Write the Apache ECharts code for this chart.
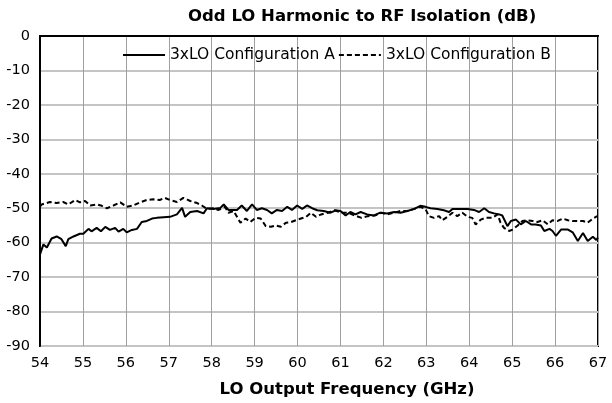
<!DOCTYPE html>
<html><head><meta charset="utf-8">
<script src="https://cdn.jsdelivr.net/npm/echarts@6/dist/echarts.min.js"></script>
<style>html,body{margin:0;padding:0;background:#fff;overflow:hidden}#c{width:612px;height:403px}</style>
</head><body><div id="c"></div>
<script>
const titleText = 'Odd LO Harmonic to RF Isolation (dB)';
const xAxisTitle = 'LO Output Frequency (GHz)';
const seriesNames = ['3xLO Configuration A', '3xLO Configuration B'];

const freqA = [54.00,54.08,54.16,54.27,54.39,54.50,54.60,54.66,54.78,54.93,55.01,55.13,55.20,55.32,55.42,55.52,55.63,55.75,55.83,55.94,56.02,56.14,56.26,56.37,56.49,56.61,56.72,56.88,57.03,57.19,57.31,57.38,57.50,57.66,57.81,57.89,58.04,58.20,58.28,58.39,58.43,58.59,58.70,58.82,58.94,59.05,59.17,59.29,59.40,59.52,59.64,59.76,59.87,59.99,60.11,60.22,60.34,60.46,60.61,60.77,60.89,61.00,61.12,61.23,61.35,61.47,61.62,61.78,61.93,62.09,62.25,62.40,62.56,62.72,62.86,62.98,63.10,63.26,63.41,63.53,63.61,63.76,63.96,64.11,64.23,64.35,64.46,64.58,64.70,64.77,64.89,64.97,65.09,65.20,65.32,65.44,65.55,65.67,65.75,65.87,65.94,66.02,66.14,66.30,66.41,66.53,66.65,66.76,66.88,66.96,67.00];
const isoA = [-63.4,-60.5,-61.4,-58.8,-58.2,-59.0,-61.0,-59.0,-58.2,-57.4,-57.4,-56.0,-56.7,-55.7,-56.7,-55.4,-56.3,-55.7,-56.8,-56.0,-57.0,-56.3,-56.0,-54.0,-53.7,-53.0,-52.8,-52.6,-52.5,-51.8,-49.9,-52.5,-51.1,-50.8,-51.5,-50.0,-50.2,-49.9,-48.9,-50.5,-50.2,-50.5,-49.2,-50.8,-48.9,-50.5,-50.0,-50.5,-51.5,-50.5,-50.8,-49.6,-50.5,-49.2,-50.2,-49.2,-50.0,-50.6,-50.8,-51.3,-50.6,-50.8,-52.1,-51.1,-51.8,-51.1,-51.8,-52.1,-51.3,-51.5,-51.1,-51.3,-50.8,-50.2,-49.3,-49.6,-50.0,-50.2,-50.6,-51.1,-50.2,-50.2,-50.2,-50.5,-51.1,-50.0,-51.1,-51.5,-51.8,-52.1,-55.2,-53.7,-53.3,-54.7,-53.7,-54.7,-54.7,-55.0,-56.6,-56.0,-56.6,-58.0,-56.2,-56.2,-57.0,-59.5,-57.2,-59.5,-58.3,-59.2,-58.5];

const freqB = [54.00,54.04,54.23,54.39,54.54,54.66,54.82,54.93,55.05,55.17,55.32,55.44,55.56,55.71,55.87,56.02,56.17,56.33,56.49,56.64,56.79,56.91,57.03,57.19,57.34,57.50,57.66,57.77,57.89,58.04,58.16,58.31,58.39,58.51,58.67,58.79,58.90,59.02,59.14,59.26,59.38,59.49,59.61,59.73,59.85,59.96,60.08,60.20,60.31,60.43,60.55,60.71,60.86,61.02,61.18,61.33,61.49,61.64,61.80,61.96,62.09,62.25,62.40,62.56,62.72,62.86,62.98,63.06,63.18,63.30,63.37,63.49,63.61,63.72,63.84,63.96,64.07,64.15,64.27,64.38,64.54,64.66,64.73,64.81,64.93,65.01,65.13,65.24,65.36,65.48,65.59,65.71,65.83,65.94,66.06,66.18,66.30,66.41,66.53,66.65,66.76,66.88,66.98];
const isoB = [-49.5,-48.9,-48.2,-48.5,-48.2,-48.9,-47.6,-48.3,-47.9,-49.2,-48.9,-49.3,-50.0,-49.2,-48.3,-49.6,-49.2,-48.3,-47.6,-47.4,-47.6,-47.0,-47.6,-48.2,-47.0,-47.9,-48.5,-49.2,-50.2,-50.0,-50.5,-49.6,-51.3,-50.8,-54.2,-53.0,-54.0,-52.8,-53.0,-55.2,-55.4,-55.0,-55.4,-54.2,-54.0,-53.5,-53.0,-52.5,-51.3,-52.5,-51.8,-51.3,-50.6,-51.3,-51.3,-52.1,-52.8,-52.3,-52.1,-51.3,-51.8,-51.3,-50.8,-50.8,-50.2,-49.6,-50.2,-52.3,-52.8,-52.3,-53.5,-52.5,-51.3,-52.3,-51.3,-52.5,-52.8,-54.7,-53.3,-52.8,-52.8,-51.8,-54.2,-55.7,-56.6,-56.2,-55.0,-53.7,-53.5,-53.7,-54.0,-53.5,-54.7,-53.5,-53.7,-53.0,-53.5,-53.7,-53.7,-53.7,-54.2,-53.0,-52.3];

const xTicks = [54,55,56,57,58,59,60,61,62,63,64,65,66,67];
const yTicks = [0,-10,-20,-30,-40,-50,-60,-70,-80,-90];

const FONT = 'DejaVu Sans';
function buildOption(){
  const n = Math.min(freqA.length, isoA.length);
  const m = Math.min(freqB.length, isoB.length);
  const dataA = [], dataB = [];
  for (let i = 0; i < n; i++) dataA.push([freqA[i], isoA[i]]);
  for (let i = 0; i < m; i++) dataB.push([freqB[i], isoB[i]]);
  return {
    animation:false,
    title:{text:titleText, left:188, top:8, padding:0,
      textStyle:{fontFamily:FONT, fontSize:16.5, fontWeight:'bold', color:'#000'}},
    legend:{
      left:122, top:47, itemGap:3, itemWidth:42, itemHeight:14, padding:0,
      itemStyle:{opacity:0},
      textStyle:{fontFamily:FONT, fontSize:15.5, color:'#000'},
      data:seriesNames
    },
    grid:{left:40, right:14, top:36, bottom:56, show:true, borderColor:'#000', borderWidth:2},
    xAxis:{
      type:'value', min:xTicks[0], max:xTicks[xTicks.length-1], interval:1,
      name:xAxisTitle, nameLocation:'middle', nameGap:35,
      nameTextStyle:{fontFamily:FONT, fontSize:16.5, fontWeight:'bold', color:'#000', padding:[0,0,0,56]},
      axisLine:{show:true, lineStyle:{color:'#000', width:2}},
      axisTick:{show:false},
      axisLabel:{fontFamily:FONT, fontSize:14.5, color:'#000', margin:10},
      splitLine:{show:true, lineStyle:{color:'#a0a0a0', width:1}}
    },
    yAxis:{
      type:'value', min:yTicks[yTicks.length-1], max:yTicks[0], interval:10,
      axisLine:{show:true, lineStyle:{color:'#000', width:2}},
      axisTick:{show:false},
      axisLabel:{fontFamily:FONT, fontSize:14.5, color:'#000', margin:10},
      splitLine:{show:true, lineStyle:{color:'#c4c4c4', width:2}}
    },
    series:[
      {name:seriesNames[0], type:'line', symbol:'none', data:dataA,
       lineStyle:{color:'#000', width:2}, itemStyle:{color:'#000'}},
      {name:seriesNames[1], type:'line', symbol:'none', data:dataB,
       lineStyle:{color:'#000', width:2, type:[5,3]}, itemStyle:{color:'#000'}}
    ]
  };
}

function gridVisible(dom){
  try{
    const cv = dom.getElementsByTagName('canvas')[0];
    if(!cv) return true;
    const ctx = cv.getContext('2d');
    const a = ctx.getImageData(292, 120, 12, 1).data;
    const b = ctx.getImageData(100, 134, 1, 12).data;
    let hit = false;
    for (let i = 0; i < a.length; i += 4) if (a[i+3] > 0 && a[i] < 235) hit = true;
    let hit2 = false;
    for (let i = 0; i < b.length; i += 4) if (b[i+3] > 0 && b[i] < 235) hit2 = true;
    return hit && hit2;
  }catch(e){ return true; }
}

const dom = document.getElementById('c');
let chart = echarts.init(dom, null, {renderer:'canvas'});
try { chart.setOption(buildOption()); } catch(e) {}
if (!gridVisible(dom)) {
  chart.dispose();
  chart = echarts.init(dom, null, {renderer:'svg'});
  chart.setOption(buildOption());
}
</script></body></html>
